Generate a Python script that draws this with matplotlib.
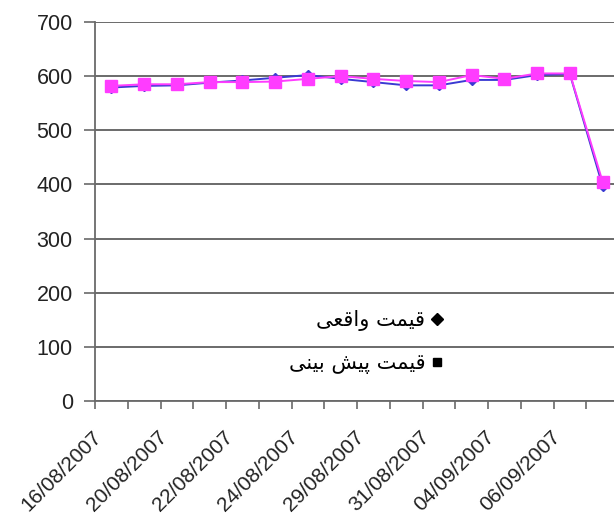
import matplotlib
matplotlib.use("Agg")
import matplotlib.pyplot as plt
from matplotlib.lines import Line2D
from matplotlib.transforms import ScaledTranslation

# Trading days and prices
dates = ["16/08/2007", "17/08/2007", "20/08/2007", "21/08/2007",
         "22/08/2007", "23/08/2007", "24/08/2007", "28/08/2007",
         "29/08/2007", "30/08/2007", "31/08/2007", "03/09/2007",
         "04/09/2007", "05/09/2007", "06/09/2007", "07/09/2007"]
actual = [579, 582, 583, 588, 592, 597, 602, 595,
          589, 583, 583, 593, 593, 602, 604, 397]
predicted = [582, 585, 585, 589, 589, 590, 595, 600,
             595, 591, 589, 602, 595, 605, 605, 405]
y_ticks = [0, 100, 200, 300, 400, 500, 600, 700]

# Persian legend labels, written in shaped presentation forms in visual order
label_actual = "\ufef0\ufecc\ufed7\ufe8d\ufeed \ufe96\ufee4\ufef4\ufed7"      # قیمت واقعی
label_pred = "\ufef0\ufee8\ufef4\ufe91 \ufeb6\ufef4\ufb58 \ufe96\ufee4\ufef4\ufed7"  # قیمت پیش بینی

W, H, DPI = 614, 513, 100
fig = plt.figure(figsize=(W / DPI, H / DPI), dpi=DPI)
ax = fig.add_axes([95 / W, (H - 401) / H, 524 / W, 379 / H])

x = list(range(len(dates)))
blue = "#3A3AD2"
pink = "#FF3CFF"
ax.plot(x, actual, color=blue, lw=1.4, marker="D", ms=5.5,
        mfc=blue, mec=blue, zorder=3, clip_on=False)
ax.plot(x, predicted, color=pink, lw=1.4, marker="s", ms=8,
        mfc=pink, mec=pink, zorder=4, clip_on=False)

ax.set_xlim(-0.5, len(dates) - 0.5)
ax.set_ylim(0, 700)

grid_c = "#6a6a6a"
ax.set_yticks(y_ticks)
ax.yaxis.grid(True, color=grid_c, lw=1.4)
ax.set_axisbelow(True)

# Category boundaries carry the tick marks; labels sit at every other category
ax.set_xticks([i - 0.5 for i in range(len(dates) + 1)])
ax.set_xticklabels([])
ax.set_xticks(x[::2], minor=True)
ax.set_xticklabels(dates[::2], minor=True, rotation=45, ha="right", va="top",
                   rotation_mode="default")
ax.tick_params(axis="x", which="minor", length=0, pad=6)
ax.tick_params(axis="x", which="major", length=6, width=1.2, color=grid_c)
ax.tick_params(axis="y", length=8, width=1.2, color=grid_c, pad=8)

for lab in ax.get_yticklabels():
    lab.set_fontfamily("Liberation Sans")
    lab.set_fontsize(15.5)
    lab.set_color("#222222")
for lab in ax.get_xticklabels(minor=True):
    lab.set_fontfamily("Liberation Sans")
    lab.set_fontsize(15)
    lab.set_color("#222222")

shift = ScaledTranslation(-6 / DPI, -18 / DPI, fig.dpi_scale_trans)
for lab in ax.get_xticklabels(minor=True):
    lab.set_transform(lab.get_transform() + shift)

for side in ("top", "right"):
    ax.spines[side].set_visible(False)
for side in ("left", "bottom"):
    ax.spines[side].set_color(grid_c)
    ax.spines[side].set_linewidth(1.3)

handles = [Line2D([], [], ls="none", marker="D", ms=6, color="black"),
           Line2D([], [], ls="none", marker="s", ms=5.5, color="black")]
leg = ax.legend(handles, [label_actual, label_pred], markerfirst=False,
                frameon=False, loc="center right",
                bbox_to_anchor=(443 / W, 1 - 342 / H),
                bbox_transform=fig.transFigure, borderaxespad=0,
                prop=dict(family=["DejaVu Sans"], size=15),
                handlelength=0.6, handletextpad=0.25, labelspacing=1.05,
                borderpad=0, alignment="right")

fig.savefig("out.png", dpi=DPI)
